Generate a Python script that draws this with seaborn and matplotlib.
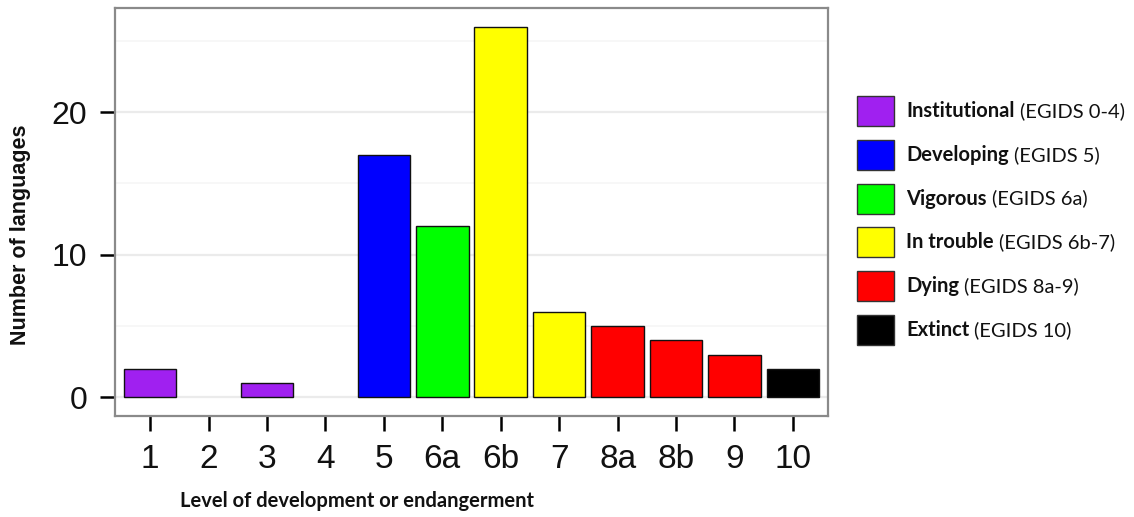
import pandas as pd
import matplotlib
matplotlib.use("Agg")
import matplotlib.pyplot as plt
import matplotlib.patches as mpatches
import seaborn as sns

# EGIDS level on the x axis and number of languages at each level
levels = ["1", "2", "3", "4", "5", "6a", "6b", "7", "8a", "8b", "9", "10"]
counts = [2, 0, 1, 0, 17, 12, 26, 6, 5, 4, 3, 2]
groups = ["Institutional", "Institutional", "Institutional", "Institutional",
          "Developing", "Vigorous", "In trouble", "In trouble",
          "Dying", "Dying", "Dying", "Extinct"]

legend_names = ["Institutional", "Developing", "Vigorous", "In trouble", "Dying", "Extinct"]
legend_notes = ["(EGIDS 0-4)", "(EGIDS 5)", "(EGIDS 6a)", "(EGIDS 6b-7)", "(EGIDS 8a-9)", "(EGIDS 10)"]
group_colors = ["#A020F0", "#0000FF", "#00FF00", "#FFFF00", "#FF0000", "#000000"]
palette = dict(zip(legend_names, group_colors))


def main():
    df = pd.DataFrame({"level": levels, "count": counts, "group": groups})
    shown = df[df["count"] > 0]

    sns.set_theme(style="white", rc={"xtick.bottom": True, "ytick.left": True,
                                     "xtick.major.size": 10, "ytick.major.size": 10,
                                     "xtick.major.width": 1.8, "ytick.major.width": 1.8,
                                     "xtick.color": "black", "ytick.color": "black"})
    fig = plt.figure(figsize=(11.34, 5.17), dpi=100)
    ax = fig.add_axes([115 / 1134, 1 - 416 / 517, 713 / 1134, 408 / 517])

    sns.barplot(data=shown, x="level", y="count", hue="group", order=levels,
                hue_order=legend_names, palette=palette, dodge=False, width=0.9,
                saturation=1, edgecolor="#111111", linewidth=1.0, legend=False,
                ax=ax, zorder=3)

    ax.set_xlim(-0.6, len(levels) - 0.4)
    ax.set_ylim(-1.3, 27.3)
    ax.set_yticks([0, 10, 20])
    ax.set_yticks([5, 15, 25], minor=True)
    ax.grid(which="major", axis="y", color="#ebebeb", linewidth=1.6, zorder=0)
    ax.grid(which="minor", axis="y", color="#f6f6f6", linewidth=1.2, zorder=0)
    ax.set_axisbelow(True)

    for sp in ax.spines.values():
        sp.set_color("#8a8a8a")
        sp.set_linewidth(1.6)

    ax.tick_params(axis="both", which="major", length=11, width=1.8, color="black",
                   direction="out", pad=9, left=True, bottom=True)
    ax.tick_params(axis="y", which="minor", length=0)
    for lab in ax.get_xticklabels():
        lab.set_family(["Liberation Sans Narrow", "Liberation Sans"])
        lab.set_fontsize(24)
        lab.set_color("#111111")
    for lab in ax.get_yticklabels():
        lab.set_family(["Liberation Sans", "DejaVu Sans"])
        lab.set_fontsize(23)
        lab.set_color("#111111")

    ax.set_xlabel("")
    ax.set_ylabel("")
    title_font = ["Lato", "DejaVu Sans"]
    fig.text(357 / 1134, 1 - 501 / 517, "Level of development or endangerment",
             ha="center", va="center", fontsize=14.5, fontweight="bold", family=title_font,
             color="#111111")
    fig.text(21 / 1134, 1 - 235 / 517, "Number of languages", rotation=90,
             ha="center", va="center", fontsize=15.5, fontweight="bold",
             family=["Liberation Sans", "DejaVu Sans"], color="#111111")

    # legend drawn by hand so the group name can be bold and the code plain
    fig.canvas.draw()
    renderer = fig.canvas.get_renderer()
    for i, (name, note, col) in enumerate(zip(legend_names, legend_notes, group_colors)):
        yc = 111 + i * 43.8
        fig.add_artist(mpatches.Rectangle((857 / 1134, 1 - (yc + 15) / 517), 37 / 1134, 30 / 517,
                                          transform=fig.transFigure, facecolor=col,
                                          edgecolor="#333333", linewidth=1.0))
        t = fig.text(906 / 1134, 1 - yc / 517, name, ha="left", va="center",
                     fontsize=14.5, fontweight="bold", family=title_font, color="#111111")
        bb = t.get_window_extent(renderer)
        fig.text((bb.x1 + 5) / 1134, 1 - yc / 517, note, ha="left", va="center",
                 fontsize=14.5, family=title_font, color="#111111")

    fig.savefig("out.png", dpi=100)


if __name__ == "__main__":
    main()
